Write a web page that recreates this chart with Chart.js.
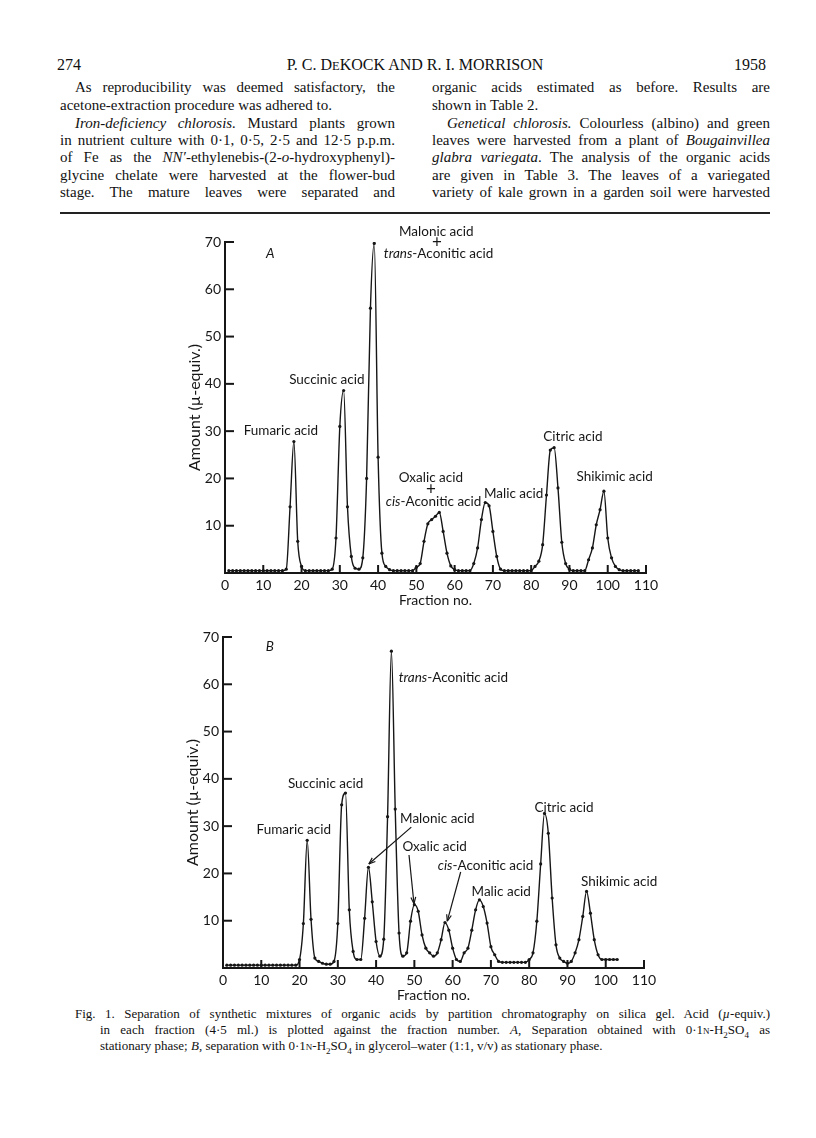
<!DOCTYPE html>
<html>
<head>
<meta charset="utf-8">
<script src="https://cdn.jsdelivr.net/npm/chart.js@4/dist/chart.umd.min.js"></script>
<style>
  body { margin: 0; background: #fff; }
  #page { position: relative; width: 816px; height: 1138px; color: #111; font-family: "Liberation Serif", serif; }
  .ln { position: absolute; font-size: 15px; line-height: 18px; white-space: nowrap; }
  .cap { position: absolute; font-size: 13px; line-height: 16px; white-space: nowrap; }
  canvas { position: absolute; }
  .sc { font-variant: small-caps; }
  sub { font-size: 9px; }
</style>
</head>
<body>
<div id="page">
  <div class="ln" style="left:57px;top:56px;font-size:16px">274</div>
  <div class="ln" style="left:250px;top:56px;width:330px;text-align:center;font-size:16px">P. C. D<span style="font-size:12.5px">E</span>KOCK AND R. I. MORRISON</div>
  <div class="ln" style="left:734px;top:56px;font-size:16px">1958</div>

  <div class="ln j" data-w="320" style="left:75px;top:78px"><span>As reproducibility was deemed satisfactory, the</span></div>
  <div class="ln" style="left:60px;top:96px">acetone-extraction procedure was adhered to.</div>
  <div class="ln j" data-w="320" style="left:75px;top:114px"><span><i>Iron-deficiency chlorosis.</i> Mustard plants grown</span></div>
  <div class="ln j" data-w="335" style="left:60px;top:131px"><span>in nutrient culture with 0·1, 0·5, 2·5 and 12·5 p.p.m.</span></div>
  <div class="ln j" data-w="335" style="left:60px;top:148px"><span>of Fe as the <i>NN′</i>-ethylenebis-(2-<i>o</i>-hydroxyphenyl)-</span></div>
  <div class="ln j" data-w="335" style="left:60px;top:166px"><span>glycine chelate were harvested at the flower-bud</span></div>
  <div class="ln j" data-w="335" style="left:60px;top:183px"><span>stage. The mature leaves were separated and</span></div>

  <div class="ln j" data-w="338" style="left:432px;top:78px"><span>organic acids estimated as before. Results are</span></div>
  <div class="ln" style="left:432px;top:96px">shown in Table 2.</div>
  <div class="ln j" data-w="323" style="left:447px;top:114px"><span><i>Genetical chlorosis.</i> Colourless (albino) and green</span></div>
  <div class="ln j" data-w="338" style="left:432px;top:131px"><span>leaves were harvested from a plant of <i>Bougainvillea</i></span></div>
  <div class="ln j" data-w="338" style="left:432px;top:148px"><span><i>glabra variegata</i>. The analysis of the organic acids</span></div>
  <div class="ln j" data-w="338" style="left:432px;top:166px"><span>are given in Table 3. The leaves of a variegated</span></div>
  <div class="ln j" data-w="338" style="left:432px;top:183px"><span>variety of kale grown in a garden soil were harvested</span></div>

  <div style="position:absolute;left:60px;top:212px;width:710px;height:2px;background:#222"></div>

  <canvas id="chartA" width="530" height="400" style="left:140px;top:210px"></canvas>
  <canvas id="chartB" width="530" height="400" style="left:138px;top:605px"></canvas>

  <div class="cap j" data-w="695" style="left:75px;top:1006px"><span>Fig. 1. Separation of synthetic mixtures of organic acids by partition chromatography on silica gel. Acid (<i>µ</i>-equiv.)</span></div>
  <div class="cap j" data-w="670" style="left:100px;top:1022px"><span>in each fraction (4·5 ml.) is plotted against the fraction number. <i>A</i>, Separation obtained with 0·1<span class="sc">n</span>-H<sub>2</sub>SO<sub>4</sub> as</span></div>
  <div class="cap" style="left:100px;top:1038px">stationary phase; <i>B</i>, separation with 0·1<span class="sc">n</span>-H<sub>2</sub>SO<sub>4</sub> in glycerol–water (1:1, v/v) as stationary phase.</div>
</div>

<script>
// Fraction numbers and acid amounts (µ-equiv.)
const fractionsA = [1,2,3,4,5,6,7,8,9,10,11,12,13,14,15,16,17,18,19,20,21,22,23,24,25,26,27,28,29,30,
  31,32,33,34,35,36,37,38,39,40,41,42,43,44,45,46,47,48,49,50,51,52,53,54,55,56,57,58,59,60,
  61,62,63,64,65,66,67,68,69,70,71,72,73,74,75,76,77,78,79,80,81,82,83,84,85,86,87,88,89,90,
  91,92,93,94,95,96,97,98,99,100,101,102,103,104,105,106,107,108];
const amountsA = [0.5,0.5,0.5,0.5,0.5,0.5,0.5,0.5,0.5,0.5,0.5,0.5,0.5,0.5,0.5,
  0.8,14,27.8,6.7,1.4,
  0.5,0.5,0.5,0.5,0.5,0.5,0.5,
  0.8,7.4,31,38.6,14,3.5,1,0.8,3.2,20,56,69.7,24.5,4.2,1.4,0.7,
  0.5,0.5,0.5,0.5,0.5,0.5,
  1.2,2,6.7,10.4,11.3,12,12.8,8.8,4.2,1.5,0.7,
  0.5,0.5,0.5,0.5,
  2,5.3,11.3,14.9,14.2,8.8,3.5,0.8,
  0.5,0.5,0.5,0.5,0.5,0.5,0.5,0.5,
  1.4,2.5,6,16.5,26,26.5,18,6.5,2,0.8,
  0.5,0.5,0.5,0.5,
  2.8,5.3,10.2,13.4,17.3,7.4,3.2,1.4,0.7,
  0.5,0.5,0.5,0.5,0.5];

const fractionsB = [1,2,3,4,5,6,7,8,9,10,11,12,13,14,15,16,17,18,19,20,21,22,23,24,25,26,27,28,29,30,
  31,32,33,34,35,36,37,38,39,40,41,42,43,44,45,46,47,48,49,50,51,52,53,54,55,56,57,58,59,60,
  61,62,63,64,65,66,67,68,69,70,71,72,73,74,75,76,77,78,79,80,81,82,83,84,85,86,87,88,89,90,
  91,92,93,94,95,96,97,98,99,100,101,102,103];
const amountsB = [0.6,0.6,0.6,0.6,0.6,0.6,0.6,0.6,0.6,0.6,0.6,0.6,0.6,0.6,0.6,0.6,0.6,0.6,0.6,
  1.8,9.4,27,10.3,2.1,1.4,1,0.8,0.8,1.4,9.4,34.5,37,12.3,3.5,1.8,1.8,10.5,21.3,14,5.6,
  2.5,6.1,32,67,33.6,7.4,2.5,3.2,9.9,13.4,12,7,4.2,3.2,2.5,3.2,6,9.6,8,4.2,
  1.8,1.4,3.2,4.2,8,12.3,14.4,13,9.5,4.5,2.8,1.4,
  1.2,1.2,1.2,1.2,1.2,1.2,1.2,
  1.8,3.2,9.9,22,32.7,28.5,14.8,4.9,2.1,1.4,1,1.4,3.2,6,10.9,16.2,11.6,6,2.8,1.8,1.8,1.8,1.8,1.8];

const xTicks = [0,10,20,30,40,50,60,70,80,90,100,110];
const yTicks = [10,20,30,40,50,60,70];

// peak labels, placed in data units
const labelsA = [
  { x: 11.8, y: 67.6, parts: [['A', 'italic']] },
  { x: 55.2, y: 72.2, parts: [['Malonic acid']] },
  { x: 55.4, y: 69.8, parts: [['+']], size: 17 },
  { x: 55.8, y: 67.5, parts: [['trans', 'italic'], ['-Aconitic acid']] },
  { x: 26.6, y: 40.8, parts: [['Succinic acid']] },
  { x: 14.6, y: 30.1, parts: [['Fumaric acid']] },
  { x: 53.8, y: 20.1, parts: [['Oxalic acid']] },
  { x: 53.8, y: 17.7, parts: [['+']], size: 17 },
  { x: 54.5, y: 15.0, parts: [['cis', 'italic'], ['-Aconitic acid']] },
  { x: 75.4, y: 16.8, parts: [['Malic acid']] },
  { x: 90.9, y: 28.9, parts: [['Citric acid']] },
  { x: 101.8, y: 20.4, parts: [['Shikimic acid']] }
];
const labelsB = [
  { x: 12.2, y: 67.9, parts: [['B', 'italic']] },
  { x: 60.2, y: 61.4, parts: [['trans', 'italic'], ['-Aconitic acid']] },
  { x: 26.8, y: 39.0, parts: [['Succinic acid']] },
  { x: 18.5, y: 29.3, parts: [['Fumaric acid']] },
  { x: 56.0, y: 31.5, parts: [['Malonic acid']] },
  { x: 55.3, y: 25.7, parts: [['Oxalic acid']] },
  { x: 68.6, y: 21.6, parts: [['cis', 'italic'], ['-Aconitic acid']] },
  { x: 72.7, y: 16.2, parts: [['Malic acid']] },
  { x: 89.1, y: 34.0, parts: [['Citric acid']] },
  { x: 103.5, y: 18.3, parts: [['Shikimic acid']] }
];
const arrowsB = [
  { from: [49.2, 29.8], to: [38.1, 22.0] },
  { from: [48.6, 23.9], to: [49.9, 13.6] },
  { from: [62.1, 20.3], to: [58.6, 9.9] }
];

const ink = '#161616';
const sans = 'Lato, "Open Sans", sans-serif';

// stretch justified lines to their column width via word spacing
document.querySelectorAll('.j').forEach(el => {
  const span = el.firstElementChild;
  const target = +el.dataset.w;
  const natural = span.getBoundingClientRect().width;
  const spaces = (span.textContent.match(/ /g) || []).length;
  if (spaces) el.style.wordSpacing = ((target - natural) / spaces) + 'px';
});

const marksPlugin = {
  id: 'marks',
  afterDraw(chart, args, opts) {
    const { ctx, chartArea: a, scales: { x, y } } = chart;
    ctx.save();
    ctx.strokeStyle = ink;
    ctx.lineWidth = 2;
    // inward tick marks
    xTicks.forEach(v => {
      if (v === 0) return;
      const px = x.getPixelForValue(v);
      ctx.beginPath(); ctx.moveTo(px, a.bottom); ctx.lineTo(px, a.bottom - 8); ctx.stroke();
    });
    yTicks.forEach(v => {
      const py = y.getPixelForValue(v);
      ctx.beginPath(); ctx.moveTo(a.left, py); ctx.lineTo(a.left + 9, py); ctx.stroke();
    });
    // arrows
    ctx.lineWidth = 1.2;
    (opts.arrows || []).forEach(ar => {
      const x0 = x.getPixelForValue(ar.from[0]), y0 = y.getPixelForValue(ar.from[1]);
      const x1 = x.getPixelForValue(ar.to[0]), y1 = y.getPixelForValue(ar.to[1]);
      ctx.beginPath(); ctx.moveTo(x0, y0); ctx.lineTo(x1, y1); ctx.stroke();
      const ang = Math.atan2(y1 - y0, x1 - x0);
      ctx.beginPath();
      ctx.moveTo(x1, y1);
      ctx.lineTo(x1 - 7 * Math.cos(ang - 0.35), y1 - 7 * Math.sin(ang - 0.35));
      ctx.moveTo(x1, y1);
      ctx.lineTo(x1 - 7 * Math.cos(ang + 0.35), y1 - 7 * Math.sin(ang + 0.35));
      ctx.stroke();
    });
    // text labels
    ctx.fillStyle = ink;
    ctx.textBaseline = 'middle';
    ctx.textAlign = 'left';
    (opts.labels || []).forEach(lb => {
      const size = lb.size || 13.5;
      const fonts = lb.parts.map(p => (p[1] === 'italic' ? 'italic ' : '') + size + 'px ' + sans);
      let w = 0;
      lb.parts.forEach((p, i) => { ctx.font = fonts[i]; w += ctx.measureText(p[0]).width; });
      let cx = x.getPixelForValue(lb.x) - w / 2;
      const cy = y.getPixelForValue(lb.y);
      lb.parts.forEach((p, i) => {
        ctx.font = fonts[i];
        ctx.fillText(p[0], cx, cy);
        cx += ctx.measureText(p[0]).width;
      });
    });
    ctx.restore();
  }
};

function makeChart(id, fractions, amounts, labels, arrows) {
  const points = fractions.map((f, i) => ({ x: f, y: amounts[i] }));
  return new Chart(document.getElementById(id), {
    type: 'line',
    data: {
      datasets: [{
        data: points,
        borderColor: ink,
        borderWidth: 1.4,
        pointRadius: 1.6,
        pointBackgroundColor: ink,
        pointBorderWidth: 0,
        cubicInterpolationMode: 'monotone',
        fill: false
      }]
    },
    options: {
      responsive: false,
      animation: false,
      layout: { padding: { top: 32, right: 24, left: 0, bottom: 0 } },
      plugins: {
        legend: { display: false },
        tooltip: { enabled: false },
        marks: { labels: labels, arrows: arrows }
      },
      scales: {
        x: {
          type: 'linear', min: 0, max: 110,
          afterBuildTicks: s => { s.ticks = xTicks.map(v => ({ value: v })); },
          afterFit: s => { s.height = 37; },
          grid: { display: false, drawTicks: false, tickLength: 0 },
          border: { display: true, color: ink, width: 2 },
          ticks: { padding: 4, color: ink, font: { family: sans, size: 14 } },
          title: { display: true, text: 'Fraction no.', color: ink, font: { family: sans, size: 14 }, padding: { top: 0, bottom: 1 } }
        },
        y: {
          min: 0, max: 70,
          afterBuildTicks: s => { s.ticks = yTicks.map(v => ({ value: v })); },
          afterFit: s => { s.width = 85; },
          grid: { display: false, drawTicks: false, tickLength: 0 },
          border: { display: true, color: ink, width: 2 },
          ticks: { padding: 4, color: ink, font: { family: sans, size: 14 } },
          title: { display: true, text: 'Amount (µ-equiv.)', color: ink, font: { family: sans, size: 16 }, padding: { top: 45, bottom: 0 } }
        }
      }
    },
    plugins: [marksPlugin]
  });
}

makeChart('chartA', fractionsA, amountsA, labelsA, []);
makeChart('chartB', fractionsB, amountsB, labelsB, arrowsB);
</script>
</body>
</html>
